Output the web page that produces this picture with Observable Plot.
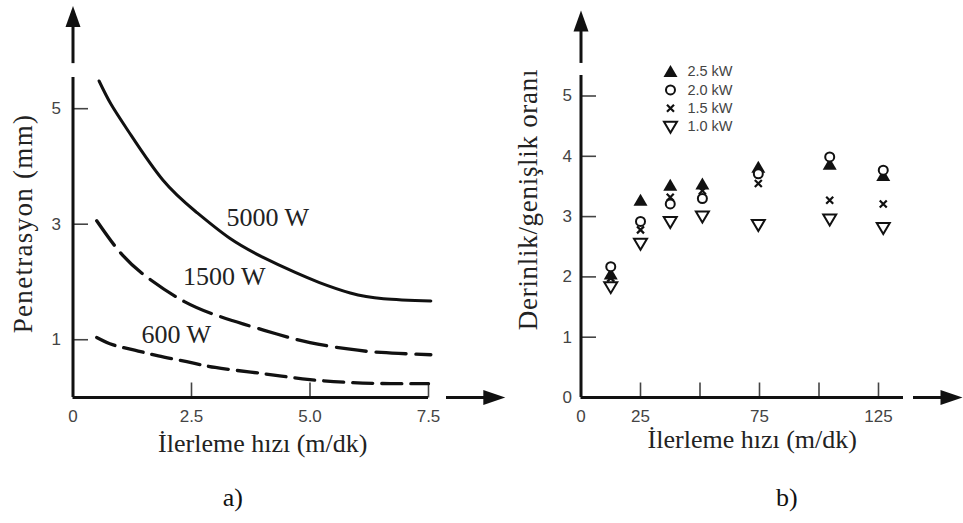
<!DOCTYPE html>
<html><head><meta charset="utf-8">
<script src="https://cdn.jsdelivr.net/npm/d3@7"></script>
<script src="https://cdn.jsdelivr.net/npm/@observablehq/plot@0.6"></script>
<style>
html,body{margin:0;padding:0;background:#fff;}
#wrap{position:relative;width:963px;height:523px;overflow:hidden;background:#fff;}
#wrap svg{position:absolute;left:0;top:0;background:transparent;overflow:visible;}
</style></head><body><div id="wrap"></div>
<script>
// ---------- Panel a) data: Penetrasyon (mm) vs İlerleme hızı (m/dk) ----------
const speed5000 = [0.55, 0.8, 1.2, 1.9, 2.6, 3.3, 4.0, 4.7, 5.2, 5.85, 6.55, 7.55];
const pen5000   = [5.48, 5.08, 4.57, 3.76, 3.21, 2.76, 2.43, 2.16, 1.99, 1.81, 1.71, 1.67];
const speed1500 = [0.5, 1.05, 1.65, 2.35, 3.0, 3.6, 4.3, 5.0, 5.8, 6.5, 7.55];
const pen1500   = [3.06, 2.46, 2.03, 1.66, 1.43, 1.27, 1.10, 0.95, 0.84, 0.78, 0.74];
const speed600  = [0.5, 0.85, 1.3, 1.8, 2.4, 3.0, 3.75, 4.4, 5.0, 5.85, 6.7, 7.5];
const pen600    = [1.04, 0.91, 0.82, 0.72, 0.62, 0.52, 0.44, 0.37, 0.31, 0.26, 0.24, 0.24];
const seriesA   = ["5000 W", "1500 W", "600 W"];
const labelAX   = [4.11, 3.19, 2.18];
const labelAY   = [3.12, 2.09, 1.09];
const xTicksA   = [0, 2.5, 5, 7.5];
const xTickTextA = ["0", "2.5", "5.0", "7.5"];
const yTicksA   = [1, 3, 5];

// ---------- Panel b) data: Derinlik/genişlik oranı vs İlerleme hızı ----------
const speedB = [12.5, 25, 37.5, 51, 74.5, 104.5, 127];
const ratio25 = [2.05, 3.27, 3.52, 3.54, 3.82, 3.87, 3.68];
const ratio20 = [2.17, 2.92, 3.21, 3.30, 3.71, 3.99, 3.77];
const ratio15 = [1.98, 2.78, 3.32, 3.43, 3.55, 3.27, 3.21];
const ratio10 = [1.83, 2.55, 2.91, 3.00, 2.86, 2.95, 2.81];
const seriesB = ["2.5 kW", "2.0 kW", "1.5 kW", "1.0 kW"];
const xTicksB = [25, 50, 75, 100, 125];
const xTickLabelsB = [0, 25, 75, 125];
const yTicksB = [1, 2, 3, 4, 5];
const yTickLabelsB = [0, 1, 2, 3, 4, 5];

// ---------- symbols ----------
const tickUp = {draw(c){c.moveTo(0,0); c.lineTo(0,-15);}};
const tickRight = {draw(c){c.moveTo(0,0); c.lineTo(15,0);}};
const headUp = {draw(c){c.moveTo(0,0); c.lineTo(7.5,21); c.lineTo(-7.5,21); c.closePath();}};
const headRight = {draw(c){c.moveTo(0,0); c.lineTo(-22,-7.5); c.lineTo(-22,7.5); c.closePath();}};
const triUp = {draw(c){c.moveTo(0,-6.5); c.lineTo(7,5.5); c.lineTo(-7,5.5); c.closePath();}};
const triDown = {draw(c){c.moveTo(-6.5,-5); c.lineTo(6.5,-5); c.lineTo(0,6); c.closePath();}};
const ring = {draw(c){c.moveTo(4.5,0); c.arc(0,0,4.5,0,2*Math.PI);}};
const cross = {draw(c){c.moveTo(-3.5,-3.5); c.lineTo(3.5,3.5); c.moveTo(3.5,-3.5); c.lineTo(-3.5,3.5);}};

const serif = "'Liberation Serif','Times New Roman',serif";
const sans = "'Liberation Sans',Arial,sans-serif";
const ink = "#111";
const intFmt = d => `${d}`;

// frame extents (axis lines / arrows), in data units
const aFrame = {yTop: 5.54, arrowY1: 5.78, arrowY2: 6.5, arrowTipY: 6.78, xArrow1: 7.88, xArrow2: 8.8, xTip: 9.12};
const bFrame = {yTop: 5.34, xEnd: 135.5, arrowY1: 5.54, arrowY2: 6.15, arrowTipY: 6.42, xArrow1: 139.7, xArrow2: 152, xTip: 160.3};

const lineA = (xs, ys) => xs.map((s,i)=>({s, p: ys[i]}));

const plotA = Plot.plot({
  width: 963, height: 523,
  marginLeft: 72.5, marginRight: 535, marginTop: 77, marginBottom: 126,
  style: {fontFamily: sans, background: "transparent", overflow: "visible"},
  x: {domain: [0, 7.5]},
  y: {domain: [0, aFrame.yTop]},
  marks: [
    Plot.axisX({ticks: xTicksA, tickFormat: d=>xTickTextA[xTicksA.indexOf(d)], tickSize: 0, tickPadding: 12, fontSize: 17, color: "#444", label: null}),
    Plot.axisY({ticks: yTicksA, tickFormat: intFmt, tickSize: 0, tickPadding: 12, fontSize: 17, color: "#444", label: null}),
    Plot.dot(xTicksA.slice(1), {x: d=>d, y: 0, symbol: tickUp, stroke: "#444", strokeWidth: 1.6, fill: "none"}),
    Plot.dot(yTicksA, {x: 0, y: d=>d, symbol: tickRight, stroke: "#444", strokeWidth: 1.6, fill: "none"}),
    Plot.ruleY([0], {x1: 0, x2: 7.5, stroke: ink, strokeWidth: 3}),
    Plot.ruleX([0], {y1: 0, y2: aFrame.yTop, stroke: ink, strokeWidth: 3}),
    Plot.ruleX([0], {y1: aFrame.arrowY1, y2: aFrame.arrowY2, stroke: ink, strokeWidth: 3}),
    Plot.dot([0], {x: 0, y: aFrame.arrowTipY, symbol: headUp, fill: ink, stroke: "none"}),
    Plot.ruleY([0], {x1: aFrame.xArrow1, x2: aFrame.xArrow2, stroke: ink, strokeWidth: 3}),
    Plot.dot([0], {x: aFrame.xTip, y: 0, symbol: headRight, fill: ink, stroke: "none"}),
    Plot.line(lineA(speed5000, pen5000), {x: "s", y: "p", curve: "natural", stroke: ink, strokeWidth: 3}),
    Plot.line(lineA(speed1500, pen1500), {x: "s", y: "p", curve: "natural", stroke: ink, strokeWidth: 3.3, strokeDasharray: "30,10"}),
    Plot.line(lineA(speed600, pen600), {x: "s", y: "p", curve: "natural", stroke: ink, strokeWidth: 3.3, strokeDasharray: "20,9"}),
    Plot.text(seriesA, {x: (d,i)=>labelAX[i], y: (d,i)=>labelAY[i], text: d=>d, fontFamily: serif, fontSize: 26, fill: "#222"}),
    Plot.text(["Penetrasyon (mm)"], {frameAnchor: "left", textAnchor: "middle", lineAnchor: "middle", dx: -50, dy: -14, rotate: -90, fontFamily: serif, fontSize: 27, fill: "#222"}),
    Plot.text(["İlerleme hızı (m/dk)"], {frameAnchor: "bottom", textAnchor: "middle", lineAnchor: "middle", dx: 12, dy: 46, fontFamily: serif, fontSize: 26, fill: "#222"}),
    Plot.text(["a)"], {frameAnchor: "bottom", textAnchor: "middle", lineAnchor: "middle", dx: -18, dy: 100, fontFamily: serif, fontSize: 26, fill: "#111"})
  ]
});

const ptsB = ys => speedB.map((s,i)=>({s, r: ys[i]}));
const legendX = 37.6, legendTop = 5.406, legendStep = 0.305, legendTextX = 44.7;
const legendSym = [
  {symbol: triUp, fill: ink, stroke: "none", strokeWidth: 0},
  {symbol: ring, fill: "white", stroke: ink, strokeWidth: 2},
  {symbol: cross, fill: "none", stroke: ink, strokeWidth: 2.2},
  {symbol: triDown, fill: "none", stroke: ink, strokeWidth: 2}
];
const legendMarks = seriesB.map((name,i)=>Plot.dot([name], {x: legendX, y: legendTop - i*legendStep, r: 4, ...legendSym[i]}));

const plotB = Plot.plot({
  width: 963, height: 523,
  marginLeft: 580.5, marginRight: 85, marginTop: 75, marginBottom: 126,
  style: {fontFamily: sans, background: "transparent", overflow: "visible"},
  x: {domain: [0, 125]},
  y: {domain: [0, bFrame.yTop]},
  marks: [
    Plot.axisX({ticks: xTickLabelsB, tickFormat: intFmt, tickSize: 0, tickPadding: 12, fontSize: 17, color: "#444", label: null}),
    Plot.axisY({ticks: yTickLabelsB, tickFormat: intFmt, tickSize: 0, tickPadding: 9, fontSize: 17, color: "#444", label: null}),
    Plot.dot(xTicksB, {x: d=>d, y: 0, symbol: tickUp, stroke: "#444", strokeWidth: 1.6, fill: "none"}),
    Plot.dot(yTicksB, {x: 0, y: d=>d, symbol: tickRight, stroke: "#444", strokeWidth: 1.6, fill: "none"}),
    Plot.ruleY([0], {x1: 0, x2: bFrame.xEnd, stroke: ink, strokeWidth: 3}),
    Plot.ruleX([0], {y1: 0, y2: bFrame.yTop, stroke: ink, strokeWidth: 3}),
    Plot.ruleX([0], {y1: bFrame.arrowY1, y2: bFrame.arrowY2, stroke: ink, strokeWidth: 3}),
    Plot.dot([0], {x: 0, y: bFrame.arrowTipY, symbol: headUp, fill: ink, stroke: "none"}),
    Plot.ruleY([0], {x1: bFrame.xArrow1, x2: bFrame.xArrow2, stroke: ink, strokeWidth: 3}),
    Plot.dot([0], {x: bFrame.xTip, y: 0, symbol: headRight, fill: ink, stroke: "none"}),
    Plot.dot(ptsB(ratio10), {x: "s", y: "r", ...legendSym[3]}),
    Plot.dot(ptsB(ratio15), {x: "s", y: "r", ...legendSym[2]}),
    Plot.dot(ptsB(ratio25), {x: "s", y: "r", ...legendSym[0]}),
    Plot.dot(ptsB(ratio20), {x: "s", y: "r", ...legendSym[1]}),
    ...legendMarks,
    Plot.text(seriesB, {x: legendTextX, y: (d,i)=>legendTop - i*legendStep, text: d=>d, textAnchor: "start", lineAnchor: "middle", fontFamily: sans, fontSize: 14.5, fill: "#444"}),
    Plot.text(["Derinlik/genişlik oranı"], {frameAnchor: "left", textAnchor: "middle", lineAnchor: "middle", dx: -52.5, dy: -37, rotate: -90, fontFamily: serif, fontSize: 27, fill: "#222"}),
    Plot.text(["İlerleme hızı (m/dk)"], {frameAnchor: "bottom", textAnchor: "middle", lineAnchor: "middle", dx: 22.5, dy: 42, fontFamily: serif, fontSize: 26, fill: "#222"}),
    Plot.text(["b)"], {frameAnchor: "bottom", textAnchor: "middle", lineAnchor: "middle", dx: 57, dy: 100, fontFamily: serif, fontSize: 26, fill: "#111"})
  ]
});

// stretch the rotated axis titles to the reference's length
const spacing = {"Penetrasyon (mm)": "1.3px", "Derinlik/genişlik oranı": "0.7px"};
for (const svg of [plotA, plotB]) {
  svg.querySelectorAll("text").forEach(t => {
    const s = spacing[t.textContent];
    if (s) t.style.letterSpacing = s;
  });
}

const wrap = document.getElementById("wrap");
wrap.appendChild(plotA);
wrap.appendChild(plotB);
</script></body></html>
